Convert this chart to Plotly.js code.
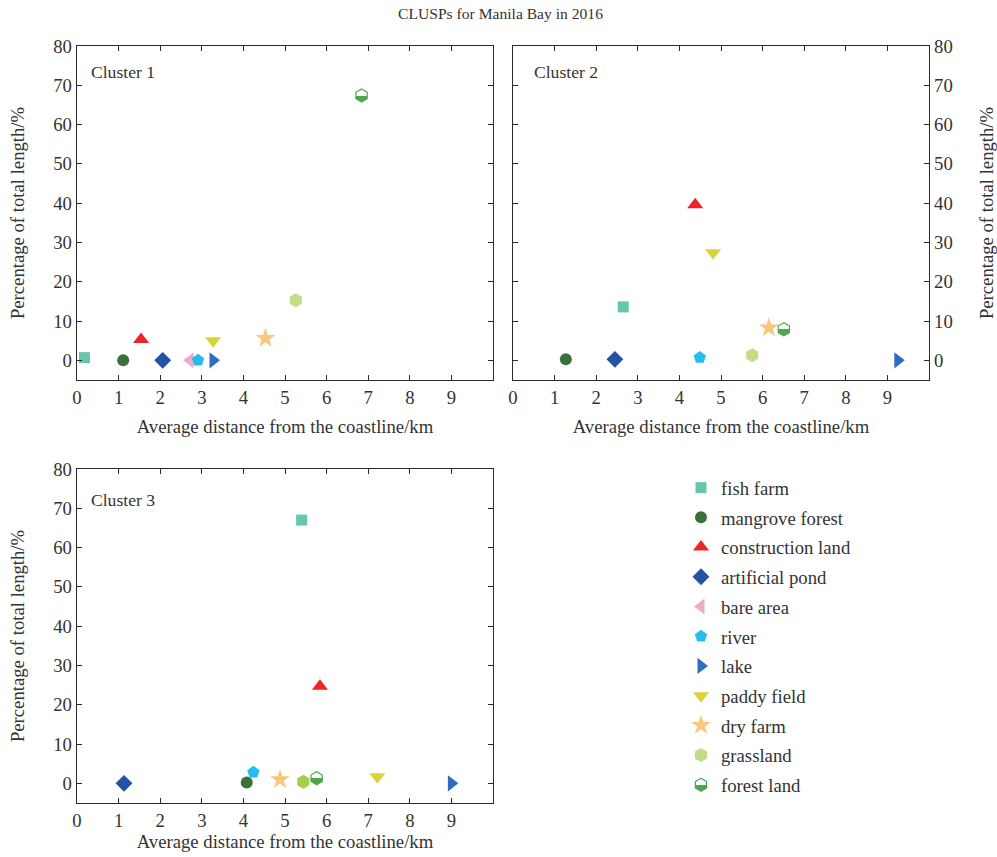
<!DOCTYPE html>
<html>
<head>
<meta charset="utf-8">
<script src="https://cdn.plot.ly/plotly-3.0.1.min.js"></script>
<style>html,body{margin:0;padding:0;background:#fff;}#chart{width:997px;height:857px;}</style>
</head>
<body>
<div id="chart"></div>
<script>
// ---- data ----
const landTypes = ['fish farm','mangrove forest','construction land','artificial pond','bare area','river','lake','paddy field','dry farm','grassland','forest land'];
const clusterNames = ['Cluster 1','Cluster 2','Cluster 3'];
const xTickVals = [0,1,2,3,4,5,6,7,8,9];
const yTickVals = [0,10,20,30,40,50,60,70,80];
// average distance from coastline (km) and percentage of total length (%), per land type
const cluster1X = [0.18, 1.11, 1.54, 2.06, 2.72, 2.91, 3.27, 3.27, 4.53, 5.26, 6.84];
const cluster1Y = [0.7, 0.0, 5.3, 0.0, 0.0, 0.0, 0.0, 5.0, 5.6, 15.3, 67.4];
const cluster2X = [2.65, 1.27, 4.38, 2.45, null, 4.49, 9.25, 4.81, 6.15, 5.75, 6.51];
const cluster2Y = [13.6, 0.3, 39.6, 0.25, null, 0.7, 0.0, 27.4, 8.3, 1.3, 7.9];
const cluster3X = [5.40, 4.08, 5.84, 1.13, null, 4.24, 9.00, 7.22, 4.88, 5.44, 5.76];
const cluster3Y = [67.0, 0.2, 24.7, 0.0, null, 2.8, 0.0, 1.7, 1.0, 0.4, 1.3];

// ---- styles ----
const symbols = ['square','circle','triangle-up','diamond','triangle-left','pentagon','triangle-right','triangle-down','star','hexagon','hexagon'];
const colors = ['#66c6ac','#3b703b','#ee2528','#2453a5','#eeaacc','#26bcee','#2e6dbf','#d9d43a','#fbc47f','#c2dd85','#4ea64a'];
const sizes = [11,12,14,13,14,13,14,14,15,14,13];
const grassColorC3 = '#a6cf48';
const FONT = 'Liberation Serif';
const FS = 18.7;

const clustersX = [cluster1X, cluster2X, cluster3X];
const clustersY = [cluster1Y, cluster2Y, cluster3Y];
const axisSuffix = ['', '2', '3'];

const traces = [];
landTypes.forEach((name, i) => {
  let shown = false;
  for (let k = 0; k < 3; k++) {
    const xv = clustersX[k][i], yv = clustersY[k][i];
    if (xv === null || yv === null) continue;
    const isForest = name === 'forest land';
    let col = colors[i];
    if (k === 2 && name === 'grassland') col = grassColorC3;
    const marker = {symbol: symbols[i], size: sizes[i], color: col, line: {width: 0}};
    if (isForest) {
      marker.line = {width: 1.2, color: colors[i]};
      marker.gradient = {type: 'vertical', color: '#ffffff'};
    }
    traces.push({
      type: 'scatter', mode: 'markers', name: name,
      x: [xv], y: [yv],
      xaxis: 'x' + axisSuffix[k], yaxis: 'y' + axisSuffix[k],
      legendgroup: name, showlegend: !shown,
      marker: marker, hoverinfo: 'x+y+name'
    });
    shown = true;
  }
});

const W = 997, H = 857;
const colL = [77/W, 493/W], colR = [513/W, 929/W];
const rowT = [1 - 380/H, 1 - 46/H], rowB = [1 - 803/H, 1 - 469/H];
const lineCol = '#2a2a2a';
const tickFont = {family: FONT, size: FS, color: '#333'};
const titleFont = {family: FONT, size: FS, color: '#333'};

function xAx(domain, anchor, standoff) {
  return {domain, anchor, range: [0, 10], tickvals: xTickVals, ticks: 'inside', ticklen: 5, tickwidth: 1,
    tickcolor: lineCol, showline: true, linecolor: lineCol, linewidth: 1.3, mirror: 'ticks',
    showgrid: false, zeroline: false, tickfont: tickFont, fixedrange: true,
    title: {text: 'Average distance from the coastline/km', font: titleFont, standoff: standoff}};
}
function yAx(domain, anchor, side, standoff) {
  return {domain, anchor, side, range: [-5, 80], tickvals: yTickVals, ticks: 'inside', ticklen: 5, tickwidth: 1,
    tickcolor: lineCol, showline: true, linecolor: lineCol, linewidth: 1.3, mirror: 'ticks',
    showgrid: false, zeroline: false, tickfont: tickFont, fixedrange: true,
    title: {text: 'Percentage of total length/%', font: titleFont, standoff: standoff}};
}

const layout = {
  width: W, height: H,
  margin: {l: 0, r: 0, t: 0, b: 0},
  paper_bgcolor: '#fff', plot_bgcolor: '#fff',
  font: {family: FONT, color: '#333'},
  title: {text: 'CLUSPs for Manila Bay in 2016', font: {family: FONT, size: 15.6, color: '#333'},
    x: 0.502, xanchor: 'center', y: 1 - 14/H, yanchor: 'middle'},
  xaxis: xAx(colL, 'y', 13),
  yaxis: yAx(rowT, 'x', 'left', 23),
  xaxis2: xAx(colR, 'y2', 13),
  yaxis2: yAx(rowT, 'x2', 'right', 29),
  xaxis3: xAx(colL, 'y3', 5),
  yaxis3: yAx(rowB, 'x3', 'left', 23),
  showlegend: true,
  legend: {x: 681/W, xanchor: 'left', y: 1 - 469/H, yanchor: 'top', bgcolor: 'rgba(0,0,0,0)',
    font: {family: FONT, size: FS, color: '#333'}, tracegroupgap: 2.4, itemclick: false, itemdoubleclick: false},
  annotations: [
    {text: clusterNames[0], xref: 'x domain', yref: 'y domain', x: 0.029, y: 0.922, xanchor: 'left', yanchor: 'middle', showarrow: false, font: {family: FONT, size: 17.6, color: '#333'}},
    {text: clusterNames[1], xref: 'x2 domain', yref: 'y2 domain', x: 0.045, y: 0.922, xanchor: 'left', yanchor: 'middle', showarrow: false, font: {family: FONT, size: 17.6, color: '#333'}},
    {text: clusterNames[2], xref: 'x3 domain', yref: 'y3 domain', x: 0.029, y: 0.907, xanchor: 'left', yanchor: 'middle', showarrow: false, font: {family: FONT, size: 17.6, color: '#333'}}
  ]
};

function sharpenGradients() {
  document.querySelectorAll('#chart linearGradient').forEach(g => {
    g.setAttribute('x1', '0'); g.setAttribute('y1', '0');
    g.setAttribute('x2', '0'); g.setAttribute('y2', '1');
    g.setAttribute('gradientUnits', 'objectBoundingBox');
    while (g.firstChild) g.removeChild(g.firstChild);
    [[0, '#ffffff'], [0.5, '#ffffff'], [0.5, colors[10]], [1, colors[10]]].forEach(([o, c]) => {
      const s = document.createElementNS('http://www.w3.org/2000/svg', 'stop');
      s.setAttribute('offset', String(o)); s.setAttribute('stop-color', c);
      g.appendChild(s);
    });
  });
}

Plotly.newPlot('chart', traces, layout, {displayModeBar: false, staticPlot: true}).then(sharpenGradients);
</script>
</body>
</html>
